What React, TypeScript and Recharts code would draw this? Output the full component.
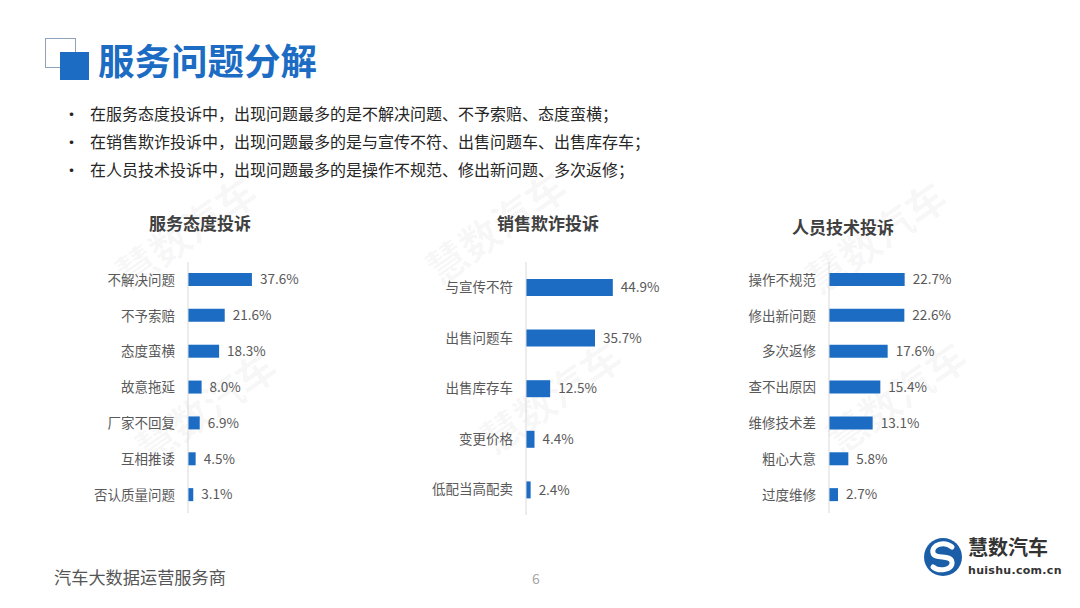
import { BarChart, Bar, XAxis, YAxis, LabelList } from "recharts";

const serviceCats = ["不解决问题", "不予索赔", "态度蛮横", "故意拖延", "厂家不回复", "互相推诿", "否认质量问题"];
const serviceVals = [37.6, 21.6, 18.3, 8.0, 6.9, 4.5, 3.1];

const salesCats = ["与宣传不符", "出售问题车", "出售库存车", "变更价格", "低配当高配卖"];
const salesVals = [44.9, 35.7, 12.5, 4.4, 2.4];

const techCats = ["操作不规范", "修出新问题", "多次返修", "查不出原因", "维修技术差", "粗心大意", "过度维修"];
const techVals = [22.7, 22.6, 17.6, 15.4, 13.1, 5.8, 2.7];

const bullets = [
  "在服务态度投诉中，出现问题最多的是不解决问题、不予索赔、态度蛮横；",
  "在销售欺诈投诉中，出现问题最多的是与宣传不符、出售问题车、出售库存车；",
  "在人员技术投诉中，出现问题最多的是操作不规范、修出新问题、多次返修；",
];

const BLUE = "#1c6cc4";
const FONT = '"Noto Sans CJK SC", "Noto Sans", sans-serif';

const Panel = ({ title, cats, vals, left, top, axisW, plotH, plotW, max, barSize, titleX, titleY }: any) => {
  const data = cats.map((name: string, i: number) => ({ name, value: vals[i] }));
  return (
    <>
      <div
        style={{
          position: "absolute",
          left: titleX,
          top: titleY,
          transform: "translate(-50%, -50%)",
          fontSize: 17,
          fontWeight: 700,
          color: "#404040",
          whiteSpace: "nowrap",
        }}
      >
        {title}
      </div>
      <div style={{ position: "absolute", left, top }}>
        <BarChart
          layout="vertical"
          width={axisW + plotW + 60}
          height={plotH}
          data={data}
          margin={{ top: 0, right: 60, bottom: 0, left: 0 }}
        >
          <XAxis type="number" hide domain={[0, max]} />
          <YAxis
            type="category"
            dataKey="name"
            width={axisW}
            axisLine={{ stroke: "#d9d9d9" }}
            tickLine={false}
            tickSize={0}
            tickMargin={13}
            interval={0}
            tick={{ fill: "#595959", fontSize: 13.5 }}
          />
          <Bar dataKey="value" fill={BLUE} barSize={barSize} isAnimationActive={false}>
            <LabelList
              dataKey="value"
              position="right"
              offset={8}
              fill="#595959"
              fontSize={13.5}
              formatter={(v: any) => Number(v).toFixed(1) + "%"}
            />
          </Bar>
        </BarChart>
      </div>
    </>
  );
};

const marks = [
  [195, 245],
  [215, 420],
  [505, 240],
  [560, 410],
  [885, 250],
  [905, 410],
];

export default function App() {
  return (
    <div
      style={{
        position: "fixed",
        left: 0,
        top: 0,
        width: 1080,
        height: 608,
        background: "#fff",
        fontFamily: FONT,
        overflow: "hidden",
      }}
    >
      {/* watermark */}
      <svg width={1080} height={608} style={{ position: "absolute", left: 0, top: 0 }}>
        {marks.map(([x, y], i) => (
          <text
            key={i}
            x={x}
            y={y}
            textAnchor="middle"
            fontSize={40}
            fontWeight={700}
            fill="#000"
            fillOpacity={0.035}
            transform={`rotate(-35 ${x} ${y})`}
          >
            慧数汽车
          </text>
        ))}
      </svg>

      {/* title icon */}
      <div style={{ position: "absolute", left: 45, top: 38, width: 29, height: 28, border: "1.5px solid #8ea3ba" }} />
      <div style={{ position: "absolute", left: 60, top: 52, width: 29, height: 28, background: BLUE }} />
      <div
        style={{
          position: "absolute",
          left: 98,
          top: 59,
          transform: "translateY(-50%)",
          fontSize: 36.5,
          fontWeight: 700,
          color: BLUE,
          whiteSpace: "nowrap",
        }}
      >
        服务问题分解
      </div>

      {bullets.map((b, i) => (
        <div key={i}>
          <div style={{ position: "absolute", left: 63, top: 113 + i * 28, transform: "translateY(-50%)", fontSize: 17, color: "#262626" }}>
            •
          </div>
          <div
            style={{
              position: "absolute",
              left: 90,
              top: 113 + i * 28,
              transform: "translateY(-50%)",
              fontSize: 16,
              color: "#262626",
              whiteSpace: "nowrap",
            }}
          >
            {b}
          </div>
        </div>
      ))}

      <Panel title="服务态度投诉" cats={serviceCats} vals={serviceVals} left={90} top={262} axisW={98} plotH={251} plotW={102} max={60} barSize={13} titleX={200} titleY={222} />
      <Panel title="销售欺诈投诉" cats={salesCats} vals={salesVals} left={420} top={262} axisW={106} plotH={253} plotW={116} max={60} barSize={17} titleX={548} titleY={222} />
      <Panel title="人员技术投诉" cats={techCats} vals={techVals} left={740} top={262} axisW={89} plotH={251} plotW={100} max={30} barSize={13} titleX={843} titleY={226} />

      <div style={{ position: "absolute", left: 54, top: 576, transform: "translateY(-50%)", fontSize: 17.2, color: "#555", whiteSpace: "nowrap" }}>
        汽车大数据运营服务商
      </div>
      <div style={{ position: "absolute", left: 532, top: 578, transform: "translateY(-50%)", fontSize: 14, color: "#a6a6a6" }}>6</div>

      {/* logo */}
      <svg width={44} height={44} style={{ position: "absolute", left: 921, top: 535 }}>
        <circle cx={22} cy={22} r={19} fill="#1b5ea8" />
        <path d="M31 12 C24 6 10 9 12 18 C14 25 30 19 31 27 C32 35 18 37 12 32" stroke="#fff" strokeWidth={5} fill="none" strokeLinecap="round" />
      </svg>
      <div style={{ position: "absolute", left: 968, top: 546, transform: "translateY(-50%)", fontSize: 20, fontWeight: 700, color: "#333", whiteSpace: "nowrap" }}>
        慧数汽车
      </div>
      <div style={{ position: "absolute", left: 968, top: 570, transform: "translateY(-50%)", fontSize: 11, fontWeight: 700, color: "#333", whiteSpace: "nowrap", fontFamily: "'DejaVu Sans', sans-serif", letterSpacing: 0.3 }}>
        huishu.com.cn
      </div>
    </div>
  );
}
